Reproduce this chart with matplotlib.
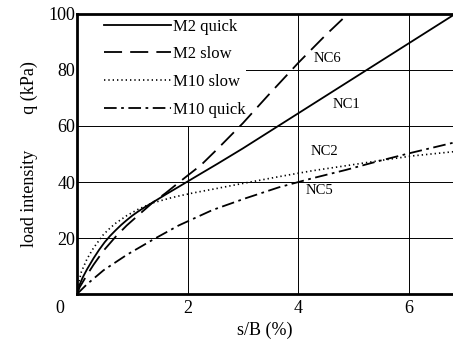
import numpy as np
import matplotlib
matplotlib.use("Agg")
import matplotlib.pyplot as plt
from matplotlib.patches import Rectangle

# Values (s/B in %, q in kPa)
m2_quick_x = [0, 0.05, 0.1, 0.18, 0.3, 0.4, 0.5, 0.6, 0.7, 0.8, 0.9, 1.0, 1.1, 1.2, 1.36, 1.6, 1.84, 2.24, 2.54, 3.0, 3.56, 4.0, 5.0, 6.0, 6.8]
m2_quick_y = [0, 3.5, 5.8, 8.8, 12.8, 15.8, 18.5, 20.8, 22.8, 24.7, 26.4, 28, 29.4, 30.7, 32.6, 35.5, 38.3, 43, 46.5, 52, 59, 64.5, 77, 89.5, 99.5]

m2_slow_x = [0, 0.05, 0.18, 0.3, 0.48, 0.7, 0.9, 1.1, 1.36, 1.6, 1.84, 2.0, 2.24, 2.54, 3.0, 3.45, 4.0, 4.5, 4.9]
m2_slow_y = [0, 2.5, 6.8, 10.5, 15.5, 20.5, 24.5, 28, 32.5, 36, 39.8, 42.3, 46, 51.8, 61, 70.8, 82.5, 92.5, 100]

m10_slow_x = [0, 0.03, 0.08, 0.18, 0.3, 0.48, 0.6, 0.7, 0.9, 1.1, 1.36, 1.69, 1.84, 2.1, 2.45, 3.0, 3.65, 4.25, 4.86, 5.46, 6.06, 6.8]
m10_slow_y = [0, 4, 8, 12.5, 16.5, 21.3, 23.6, 25.3, 28, 30.2, 32.5, 34.3, 35, 36.1, 37.4, 39.5, 41.9, 44, 45.8, 47.6, 49.3, 50.8]

m10_quick_x = [0, 0.18, 0.48, 0.9, 1.38, 1.84, 2.45, 3.05, 3.65, 4.25, 4.86, 5.46, 6.06, 6.8]
m10_quick_y = [0, 3.5, 8.5, 14, 19.5, 24.5, 30, 34.2, 38.1, 41.3, 44.3, 47.5, 50.5, 54]

series_names = ["M2 quick", "M2 slow", "M10 slow", "M10 quick"]
curve_labels = ["NC6", "NC1", "NC2", "NC5"]
label_pos = [(4.28, 84), (4.62, 67.5), (4.22, 51), (4.13, 37)]

x_ticks = [2, 4, 6]
y_ticks = [20, 40, 60, 80, 100]

plt.rcParams['font.family'] = ['Liberation Serif', 'DejaVu Serif']

fig = plt.figure(figsize=(4.53, 3.48), dpi=100)
ax = fig.add_axes([0.17, 0.155, 0.83, 0.805])
ax.set_axisbelow(True)

ax.plot(m2_quick_x, m2_quick_y, color='black', lw=1.3, ls='-', label=series_names[0], zorder=3)
ax.plot(m2_slow_x, m2_slow_y, color='black', lw=1.3, ls=(0, (10, 4.5)), label=series_names[1], zorder=3)
ax.plot(m10_slow_x, m10_slow_y, color='black', lw=1.2, ls=(0, (0.8, 1.8)), label=series_names[2], zorder=3)
ax.plot(m10_quick_x, m10_quick_y, color='black', lw=1.3, ls=(0, (7, 2.5, 1.5, 2.5)), label=series_names[3], zorder=3)

for txt, (lx, ly) in zip(curve_labels, label_pos):
    ax.text(lx, ly, txt, fontsize=10.5, ha='left', va='center', zorder=4)

ax.set_xlim(0, 6.8)
ax.set_ylim(0, 100)
ax.set_xticks(x_ticks)
ax.set_yticks(y_ticks)
ax.tick_params(axis='y', length=0, labelsize=13, pad=1)
ax.tick_params(axis='x', length=0, labelsize=13, pad=4)
ax.text(-0.035, -0.02, "0", transform=ax.transAxes, fontsize=13, ha='right', va='top')

ax.grid(True, color='black', lw=0.7)
for side in ['left', 'bottom', 'top']:
    ax.spines[side].set_linewidth(2)
ax.spines['right'].set_visible(False)

# white patch behind the legend, grid lines stop at its edge like in the scan
ax.add_patch(Rectangle((0, 0.6), 0.45, 0.4, transform=ax.transAxes,
                       facecolor='white', edgecolor='none', zorder=1))

ax.set_xlabel("s/B (%)", fontsize=13, labelpad=4)
ax.set_ylabel("load intensity        q (kPa)", fontsize=13, labelpad=8)

leg = ax.legend(loc='upper left', bbox_to_anchor=(0.064, 0.995), frameon=False,
                fontsize=12, handlelength=4.0, borderaxespad=0.0,
                handletextpad=0.1, labelspacing=0.7, borderpad=0.2)

fig.savefig("out.png", dpi=100)
